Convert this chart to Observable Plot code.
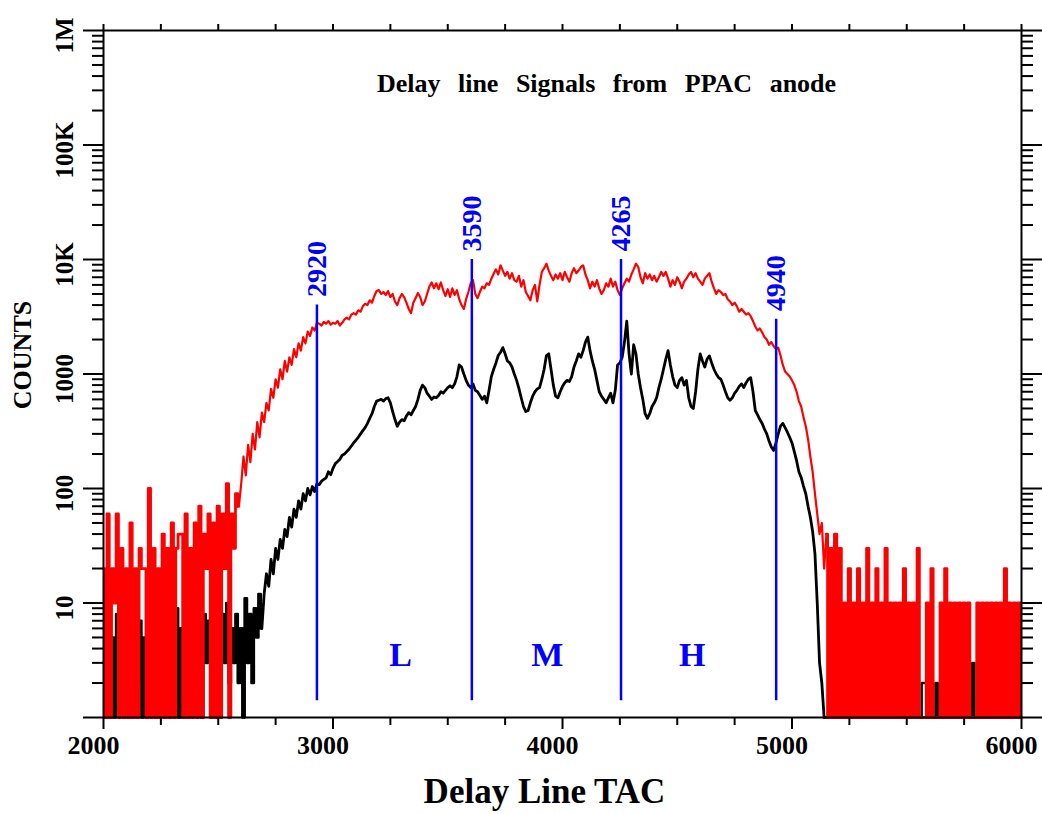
<!DOCTYPE html>
<html><head><meta charset="utf-8">
<script src="https://cdn.jsdelivr.net/npm/d3@7"></script>
<script src="https://cdn.jsdelivr.net/npm/@observablehq/plot@0.6"></script>
<style>
html,body{margin:0;padding:0;background:#fff;}
#chart svg{display:block;}
</style></head><body><div id="chart"></div>
<script>
// ---- channel grid ----
const binWidth = 10;

// ---- red histogram (counts) ----
const redLowStart = 2000;
const redLow = [20,0,60,0,20,10,60,0,30,0,
  20,0,50,0,20,0,30,20,20,0,
  100,0,30,0,20,0,40,0,30,0,
  50,0,30,40,40,0,60,0,30,0,
  50,0,70,0,40,20,60,0,50,0,
  70,0,60,20,110,0,60,30,90,70];
const redRiseStart = 2600;
const redRise = [110,190,130,240,170,300,220,380,280,460,
  380,560,480,740,620,900,760,1100,900,1300,
  1050,1400,1200,1650,1400,1850,1600,2100,1850,2350,
  2150,2550,2400,2800,2750,2650,2850,2750,2900,2700];
const redPlateauStart = 3000;
const redPlateau = [2800,2750,2900,2650,2800,3000,3100,3000,3300,3400,
  3300,3600,3500,3900,4100,4000,4400,4200,4800,5300,
  5400,5000,5200,4900,5300,4700,5000,4300,4000,4600,
  5000,4700,4200,3700,3400,4200,4600,5100,4700,4000,
  4300,5000,5800,6300,5600,6200,5500,6300,5400,4800,
  5500,4700,5600,4900,5400,4500,4000,3700,4500,5200,
  6200,6600,5000,4600,5200,5800,5600,6200,6000,6800,
  7500,8200,7400,8900,8000,7200,7800,6800,7600,6600,
  6400,7200,5800,6600,5200,4800,4400,5400,6000,4300,
  6000,7800,8400,9200,8000,7200,6600,7400,6800,7600,
  6600,7800,7000,6400,7600,8400,7600,8000,8600,8900,
  7400,6600,5600,6400,5800,6600,5600,5000,5400,6200,
  5800,6800,5800,6400,5400,4900,5600,6200,6800,6400,
  7400,8200,9200,8600,7000,6200,7600,6800,7400,6600,
  7200,6400,7000,7800,7200,7800,6800,5800,6600,6000,
  7000,6400,5600,6400,6800,7400,7800,7000,7600,6800,
  6400,6000,6800,7200,7600,6400,5600,5000,5400,5200];
const redFallStart = 4700;
const redFall = [4900,5000,4500,4300,4000,4200,3900,3500,3700,3500,
  3300,3400,3200,2900,2600,2400,2500,2300,2100,2000,
  1800,1900,1750,1650,1700,1450,1200,1050,1000,950,
  880,800,700,580,520,420,350,270,190,140,
  90,60,40,50,20];
const redTailStart = 5150;
const redTail = [40,0,30,0,40,0,30,0,10,0,
  20,0,10,0,20,0,10,0,30,0,
  10,0,20,0,10,0,30,0,10,0,
  10,0,10,0,20,0,10,0,10,0,
  30,0,0,0,10,0,20,0,0,0,
  10,0,20,0,10,0,10,0,10,0,
  10,0,10,0,0,0,10,0,10,0,
  10,0,10,0,10,0,10,0,20,0,
  10,0,10,0,10,0];

// ---- black histogram ----
const blackLowStart = 2000;
const blackLow = [3,0,8,1,5,0,8,2,6,0,
  5,1,9,0,4,2,7,0,5,1,
  8,2,6,0,10,2,7,1,8,0,
  5,2,9,1,6,0,8,1,7,3,
  9,2,6,0,8,3,7,1,9,2,
  6,1,8,3,10,2,6,3,8,2,
  6,0,11,3,8,2,9,5,12,6];
const blackRiseStart = 2700;
const blackRise = [12,18,14,24,18,30,24,36,30,44,
  38,56,46,66,56,78,66,90,78,100,
  88,104,94,110,108,116,120,124,140,132];
const blackPlateauStart = 3000;
const blackPlateau = [150,165,172,180,195,200,210,220,235,250,
  265,280,300,320,340,370,410,450,520,580,
  590,600,580,610,620,560,470,400,350,380,
  400,390,430,460,440,480,520,600,720,800,
  760,680,640,600,630,620,650,700,680,720,
  760,790,760,820,950,1200,1150,1000,880,800,
  760,820,720,700,650,600,640,560,720,950,
  1100,1250,1450,1550,1700,1500,1300,1250,1150,1000,
  880,750,620,520,470,480,560,640,700,740,
  760,900,1100,1450,1500,1100,800,640,620,700,
  780,840,880,860,950,1150,1300,1500,1400,1600,
  1900,2100,1600,1300,1100,880,700,640,600,560,
  620,680,560,720,1200,1250,1400,1900,2900,1500,
  1000,1800,1500,1000,760,600,450,410,450,520,
  560,620,760,900,1100,1350,1600,1200,950,800,
  760,880,930,800,880,620,520,500,700,1100,
  1500,1300,1150,1350,1440,1250,1100,1000,930,900];
const blackFallStart = 4700;
const blackFall = [800,700,620,590,620,680,720,780,820,760,
  840,900,930,700,480,440,400,370,330,300,
  260,230,215,250,300,350,370,340,310,280,
  250,210,175,140,125,105,90,70,56,42,
  27,10,3,2];
const blackTailStart = 5140;
const blackTail = [1,0,1,0,2,0,1,1,0,1,
  0,1,0,1,0,0,1,0,1,0,
  1,0,1,0,1,0,0,1,0,1,
  0,1,0,1,0,1,0,0,1,0,
  1,0,1,2,2,0,1,0,0,2,
  1,0,1,0,1,0,1,0,1,0,
  1,0,1,0,1,3,0,1,0,1,
  0,1,0,1,0,1,0,1,0,1,
  0,1,0,1,0,1,0];

// ---- gate lines ----
const gatePos = [2930, 3605, 4255, 4931];
const gateLabels = ["2920", "3590", "4265", "4940"];
const gateTop = [4000, 10000, 10000, 3000];
const gateBottom = 1.4;
const regionNames = ["L", "M", "H"];
const regionPos = [3294, 3934, 4565];

// ---- axes ----
const xMajorTicks = [2000, 3000, 4000, 5000, 6000];
const xMinorTicks = [2250, 2500, 2750, 3250, 3500, 3750, 4250, 4500, 4750, 5250, 5500, 5750];
const yMajorTicks = [1, 10, 100, 1000, 10000, 100000, 1000000];
const yLabelTicks = [10, 100, 1000, 10000, 100000, 1000000];
const yTickLabels = ["10", "100", "1000", "10K", "100K", "1M"];
const yMinorMultipliers = [2, 3, 4, 5, 6, 7, 8, 9];

const titleText = "Delay line Signals from PPAC anode";
const xLabel = "Delay Line TAC";
const yLabel = "COUNTS";

function seg(start, vals) { return vals.map((v, i) => ({x: start + i * binWidth, v})); }
const redNoiseLow = seg(redLowStart, redLow);
const redNoiseTail = seg(redTailStart, redTail);
const redMain = [redNoiseLow[redNoiseLow.length - 1],
  ...seg(redRiseStart, redRise), ...seg(redPlateauStart, redPlateau), ...seg(redFallStart, redFall),
  redNoiseTail[0]];
const blackNoiseLow = seg(blackLowStart, blackLow);
const blackNoiseTail = seg(blackTailStart, blackTail);
const blackMain = [blackNoiseLow[blackNoiseLow.length - 1],
  ...seg(blackRiseStart, blackRise), ...seg(blackPlateauStart, blackPlateau), ...seg(blackFallStart, blackFall),
  blackNoiseTail[0]];

const gates = gatePos.map((p, i) => ({pos: p, label: gateLabels[i], top: gateTop[i], bottom: gateBottom}));
const regions = regionNames.map((n, i) => ({name: n, pos: regionPos[i]}));
const yMinorTicks = yMajorTicks.slice(0, -1).flatMap(d => yMinorMultipliers.map(m => d * m));
const xAllTicks = [...xMajorTicks, ...xMinorTicks];

const serif = "'Liberation Serif', 'Times New Roman', serif";
const blue = "#0000ff";
const yv = d => Math.max(d.v, 1);

const chart = Plot.plot({
  width: 1042, height: 814,
  marginLeft: 103, marginRight: 21, marginTop: 30, marginBottom: 97,
  style: {fontFamily: serif, background: "white", color: "black"},
  x: {type: "linear", domain: [2000, 6000], axis: null},
  y: {type: "log", domain: [1, 1e6], axis: null},
  marks: [
    Plot.line(blackNoiseLow, {x: "x", y: yv, curve: "step", stroke: "black", strokeWidth: 2.6}),
    Plot.line(blackNoiseTail, {x: "x", y: yv, curve: "step", stroke: "black", strokeWidth: 2.4}),
    Plot.line(blackMain, {x: "x", y: yv, stroke: "black", strokeWidth: 2.8}),
    Plot.line(redNoiseLow, {x: "x", y: yv, curve: "step", stroke: "#ff0000", strokeWidth: 2.8}),
    Plot.line(redNoiseTail, {x: "x", y: yv, curve: "step", stroke: "#ff0000", strokeWidth: 2.8}),
    Plot.line(redMain, {x: "x", y: yv, stroke: "#ff0000", strokeWidth: 2.2}),
    Plot.ruleX(gates, {x: "pos", y1: "bottom", y2: "top", stroke: blue, strokeWidth: 2.5}),
    Plot.text(gates, {x: "pos", y: "top", text: "label", rotate: -90, textAnchor: "start", lineAnchor: "middle", dy: -8, fill: blue, fontSize: 28, fontWeight: "bold"}),
    Plot.text(regions, {x: "pos", text: "name", frameAnchor: "bottom", lineAnchor: "middle", dy: -62, fill: blue, fontSize: 34, fontWeight: "bold"}),
    Plot.text([titleText], {text: d => d, frameAnchor: "top", lineAnchor: "middle", dx: 44, dy: 53, fontSize: 26, fontWeight: "bold"}),
    Plot.frame({stroke: "black", strokeWidth: 2}),
    // y ticks left & right
    Plot.axisY(yMajorTicks, {anchor: "left", tickSize: 20, tickFormat: () => "", label: null, strokeWidth: 2}),
    Plot.axisY(yMinorTicks, {anchor: "left", tickSize: 11, tickFormat: () => "", label: null, strokeWidth: 2}),
    Plot.axisY(yMajorTicks, {anchor: "right", tickSize: 20, tickFormat: () => "", label: null, strokeWidth: 2}),
    Plot.axisY(yMinorTicks, {anchor: "right", tickSize: 11, tickFormat: () => "", label: null, strokeWidth: 2}),
    // x ticks bottom & top
    Plot.axisX(xMajorTicks, {anchor: "bottom", tickSize: 12, tickFormat: () => "", label: null, strokeWidth: 2}),
    Plot.axisX(xMinorTicks, {anchor: "bottom", tickSize: 8, tickFormat: () => "", label: null, strokeWidth: 2}),
    Plot.axisX(xAllTicks, {anchor: "top", tickSize: 7, tickFormat: () => "", label: null, strokeWidth: 2}),
    // tick labels
    Plot.text(xMajorTicks, {x: d => d, text: d => String(d), frameAnchor: "bottom", lineAnchor: "middle", dy: 28, dx: -10, fontSize: 26, fontWeight: "bold"}),
    Plot.text(yLabelTicks, {y: d => d, text: (d, i) => yTickLabels[i], frameAnchor: "left", textAnchor: "middle", lineAnchor: "middle", dx: -39, dy: 5, rotate: -90, fontSize: 25, fontWeight: "bold"}),
    Plot.text([xLabel], {text: d => d, frameAnchor: "bottom", lineAnchor: "middle", dx: -18, dy: 74, fontSize: 35, fontWeight: "bold"}),
    Plot.text([yLabel], {text: d => d, frameAnchor: "left", textAnchor: "middle", lineAnchor: "middle", dx: -81, dy: -19, rotate: -90, fontSize: 26, fontWeight: "bold"})
  ]
});
d3.select(chart).selectAll("text").filter(function() { return this.textContent === titleText; }).style("word-spacing", "11px");
document.getElementById("chart").appendChild(chart);
</script>
</body></html>
